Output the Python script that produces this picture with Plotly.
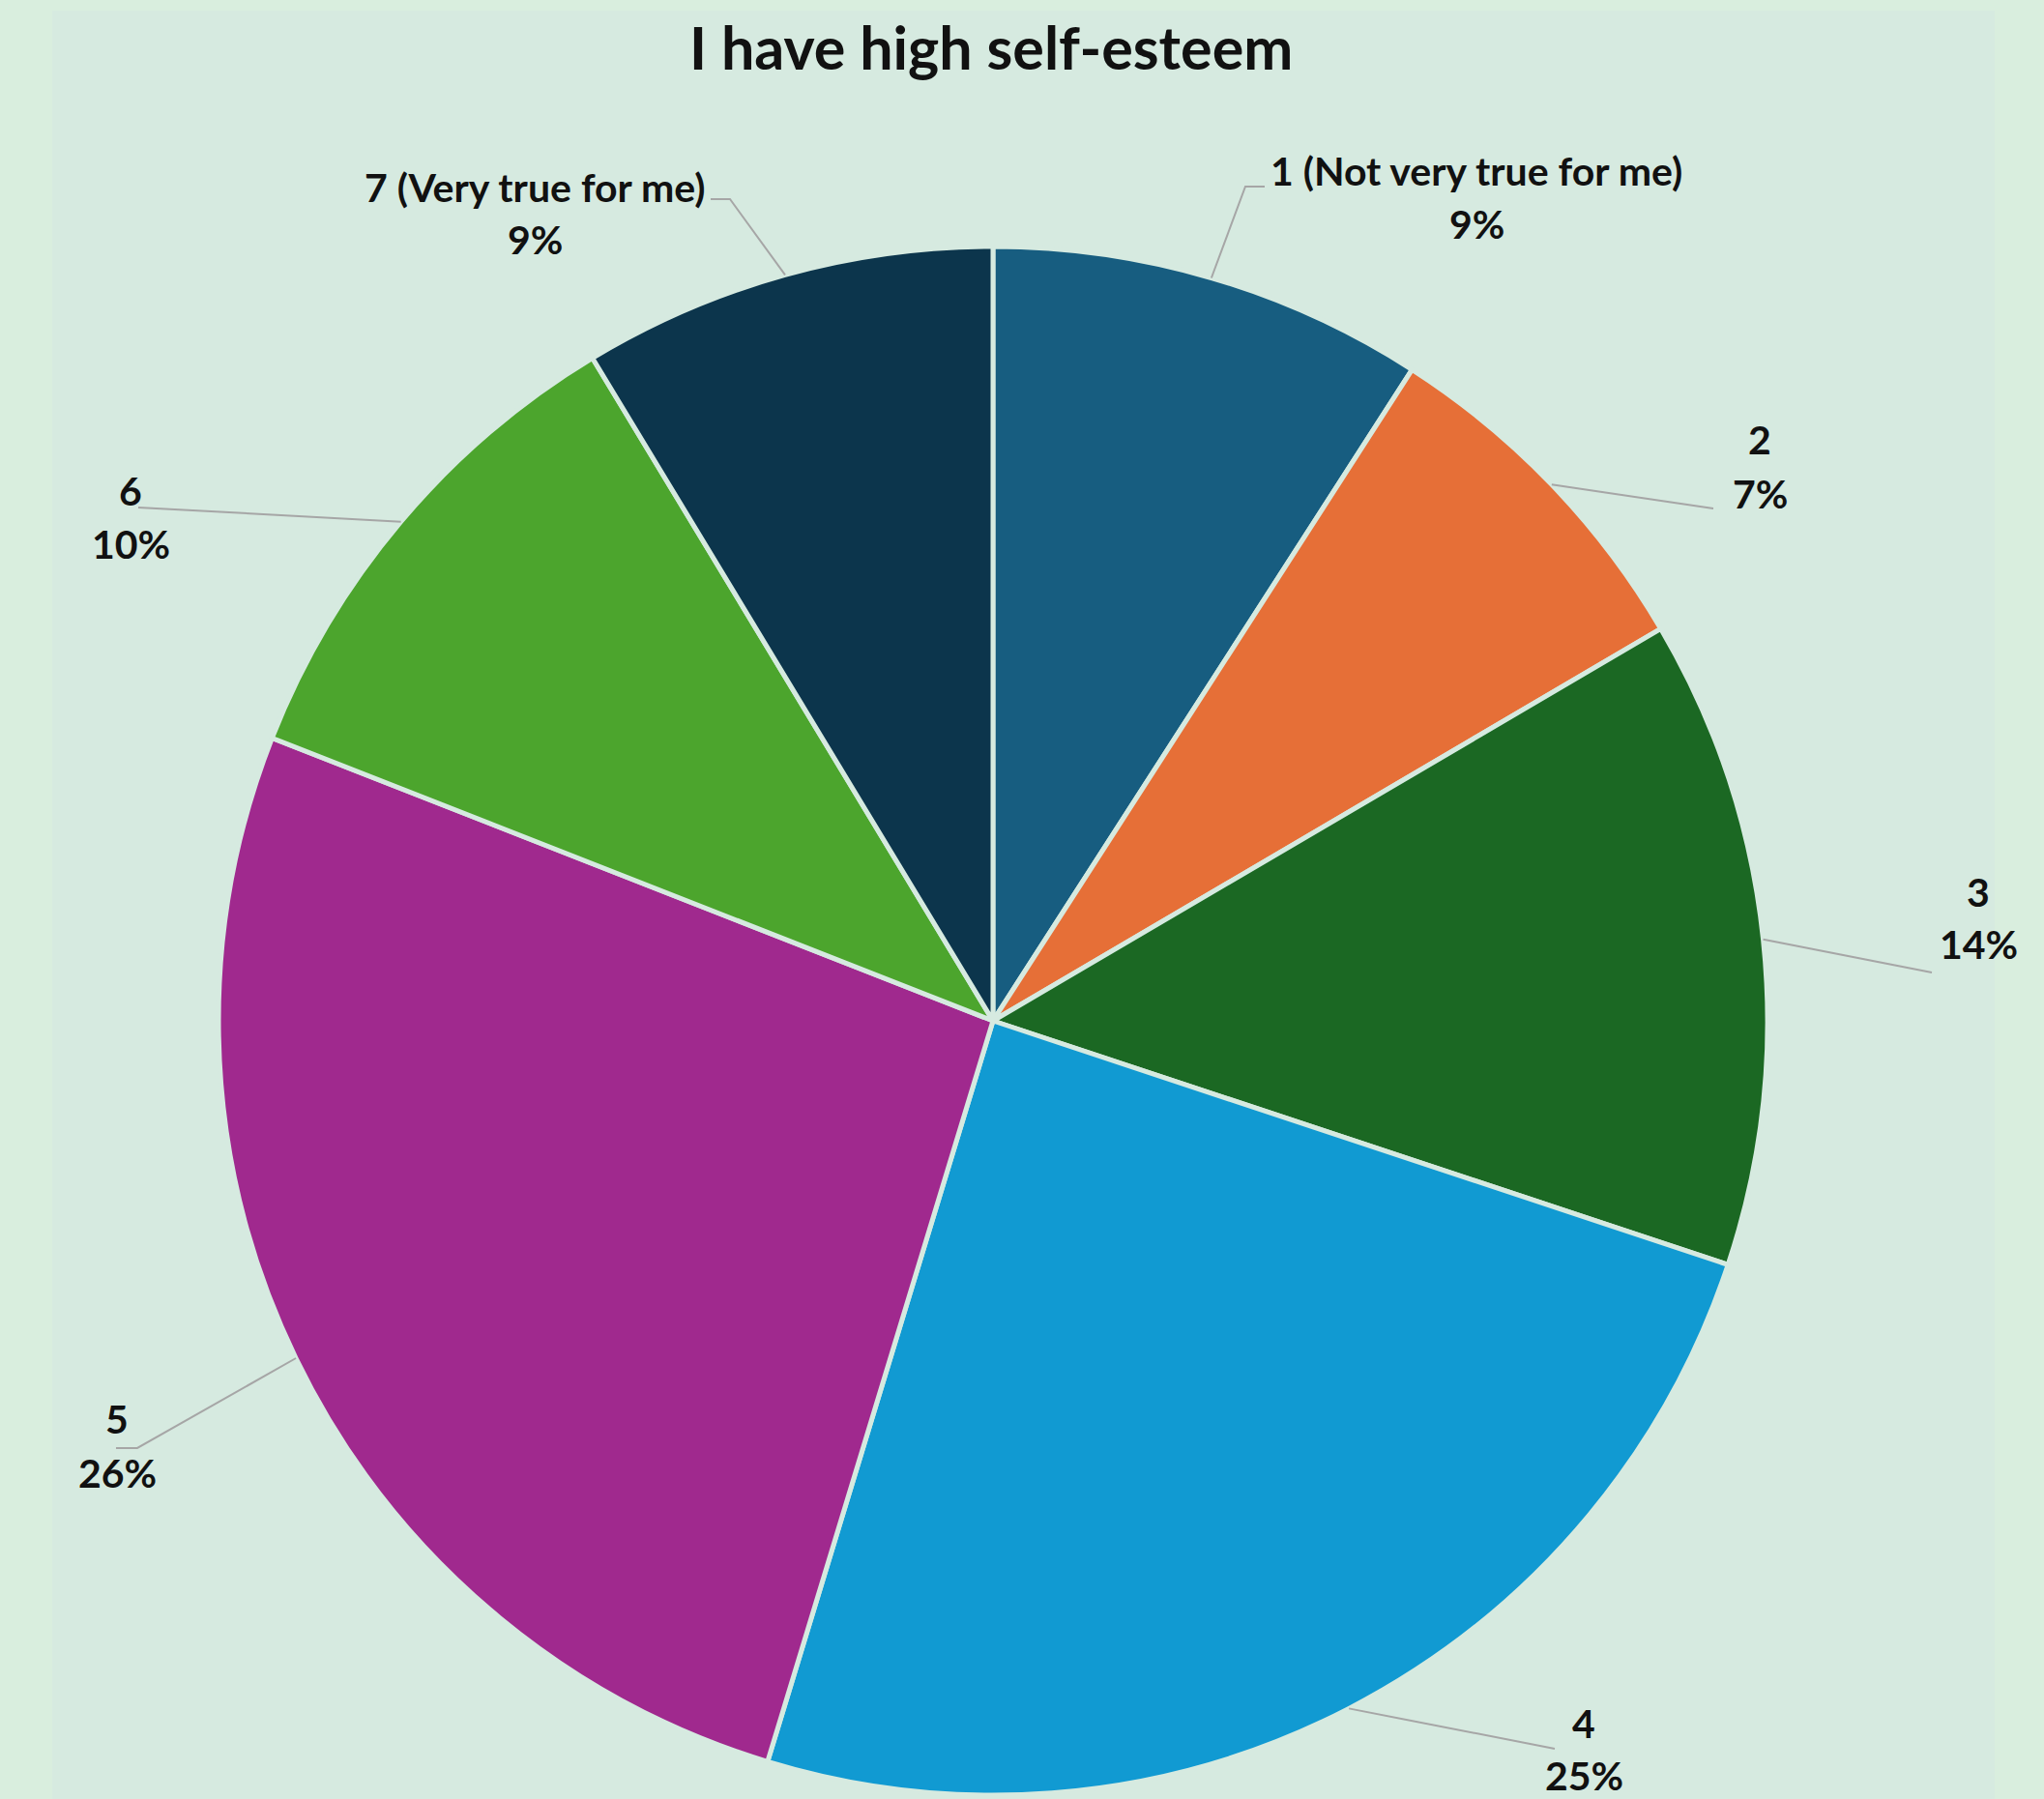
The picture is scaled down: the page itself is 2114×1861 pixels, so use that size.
import math
import plotly.graph_objects as go

# ---------------- data ----------------
categories = ["1 (Not very true for me)", "2", "3", "4", "5", "6", "7 (Very true for me)"]
values = [9.1, 7.45, 13.55, 24.6, 26.25, 10.4, 8.65]
title_text = "I have high self-esteem"

# ---------------- style / layout ----------------
W, H = 2114, 1861
colors = ["#175d80", "#e66f37", "#1b6823", "#119ad2", "#a0298e", "#4ca52d", "#0c354c"]
outer_bg = "#d9eede"
inner_bg = "#d6eae0"
CX, CY, R = 1027, 1056, 801  # pie centre / radius in pixels

# label placement (pixel coords): name centre, percent centre, leader elbow points
label_pos = [
    ((1527, 177), (1527, 232), [(1288, 193), (1308, 193)]),
    ((1820, 454), (1820, 510), [(1772, 526)]),
    ((2046, 922), (2046, 976), [(1998, 1006)]),
    ((1638, 1782), (1638, 1836), [(1608, 1809)]),
    ((121, 1467), (121, 1523), [(142, 1498), (120, 1498)]),
    ((135, 507), (135, 562), [(143, 525)]),
    ((553, 194), (553, 248), [(755, 206), (735, 206)]),
]


def px(x):
    return x / W


def py(y):
    return 1 - y / H


fig = go.Figure()
fig.add_trace(go.Pie(
    labels=categories,
    values=values,
    sort=False,
    direction="clockwise",
    rotation=0,
    marker=dict(colors=colors, line=dict(color=inner_bg, width=5)),
    textinfo="none",
    hoverinfo="label+percent",
    showlegend=False,
    domain=dict(x=[px(CX - R), px(CX + R)], y=[py(CY + R), py(CY - R)]),
))

total = sum(values)
annotations = []
shapes = [dict(type="rect", xref="paper", yref="paper", x0=px(54), x1=px(2063),
               y0=0, y1=py(11), fillcolor=inner_bg, line=dict(width=0), layer="below")]
cum = 0.0
label_font = dict(family="Lato", size=41, color="#111111", weight="bold")
for i, (cat, v) in enumerate(zip(categories, values)):
    mid = (cum + v / 2) / total * 2 * math.pi
    cum += v
    ex = CX + R * math.sin(mid)
    ey = CY - R * math.cos(mid)
    (nx, ny), (qx, qy), elbows = label_pos[i]
    pts = [(ex, ey)] + elbows
    path = "M " + " L ".join(f"{px(x):.5f},{py(y):.5f}" for x, y in pts)
    shapes.append(dict(type="path", xref="paper", yref="paper", path=path,
                       line=dict(color="#a6a6a6", width=2)))
    pct = f"{round(v / total * 100):d}%"
    annotations.append(dict(x=px(nx), y=py(ny), xref="paper", yref="paper", text=cat,
                            showarrow=False, xanchor="center", yanchor="middle",
                            font=label_font))
    annotations.append(dict(x=px(qx), y=py(qy), xref="paper", yref="paper", text=pct,
                            showarrow=False, xanchor="center", yanchor="middle",
                            font=label_font))

annotations.append(dict(x=px(1025), y=py(48), xref="paper", yref="paper", text=title_text,
                        showarrow=False, xanchor="center", yanchor="middle",
                        font=dict(family="Lato", size=61, color="#111111", weight="bold")))

fig.update_layout(
    width=W, height=H,
    margin=dict(l=0, r=0, t=0, b=0),
    paper_bgcolor=outer_bg,
    plot_bgcolor=outer_bg,
    shapes=shapes,
    annotations=annotations,
)

fig.write_html("out.html")
